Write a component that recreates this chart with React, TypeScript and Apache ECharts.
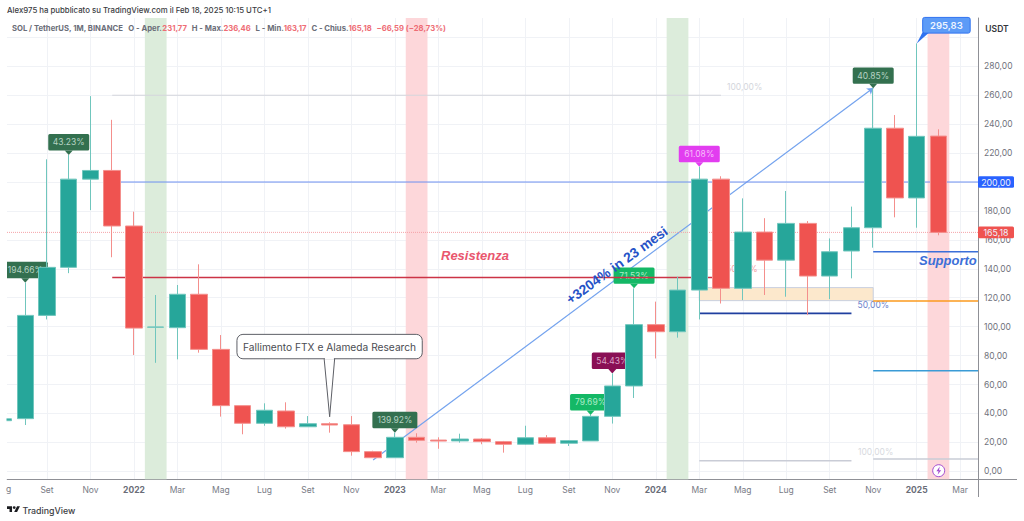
import React, { useEffect, useRef } from "react";
import * as echarts from "echarts";

// ---- data ----
const monthIndex = [-2,-1,0,1,2,3,4,5,6,7,8,9,10,11,12,13,14,15,16,17,18,19,20,21,22,23,24,25,26,27,28,29,30,31,32,33,34,35,36,37,38,39,40,41];
const opens =  [35,36.4,107.8,141,202,208,169.6,99.6,99.3,122.4,84.3,45.4,33.2,41.7,30.8,32.9,32.2,13.6,9.4,23.5,21.6,21,22.3,20.5,18.7,23.2,19.4,21,38,59,101.4,96.5,125.3,202,126.5,165.4,146,171.4,135,152.3,168.4,237.2,189,231.77];
const closes = [36.3,107.8,141,202,208,169.6,99,99.8,122.4,84.3,45.4,33.2,42.2,30.8,32.9,32,13.6,9.4,23.5,21.4,20.9,22.3,20.5,18.7,23.2,19.4,21.2,38,59,101.4,96.5,125.3,202,126.5,165.4,146,171.4,135,151.8,168.4,237.2,189,231.6,165.18];
const lows =   [34.5,32,105,137,180.6,148,80.4,75,77.4,82,37.8,25.6,31.5,29.5,30.8,26.7,10.8,9.4,9.4,19.8,15.6,19.8,18.7,12.9,18.3,19.4,17.5,21,33,50.7,78,92.4,105,116,118.4,121.9,120.7,108,119,133.4,154.6,175.6,168.4,163.17];
const highs =  [37,130.4,215.7,218.7,259.4,243,179.5,121.9,128.8,143.1,94.2,45.4,47,47.7,38.2,33.9,38.2,14.2,26.7,26.3,23.5,26,22.8,21,31.5,25,21.6,39,67.7,126.5,117.3,134.5,210.6,204,188.7,175,193.8,173,161,183,264.8,246.3,295.83,236.46];

const yTickValues = [0,20,40,60,80,100,120,140,160,180,200,220,240,260,280,300];
const yLabelValues = [0,20,40,60,80,100,120,140,160,180,220,240,260,280];
const xTickValues = [0,2,4,6,8,10,12,14,16,18,20,22,24,26,28,30,32,34,36,38,40,42];
const xTickLabels = ["Set","Nov","2022","Mar","Mag","Lug","Set","Nov","2023","Mar","Mag","Lug","Set","Nov","2024","Mar","Mag","Lug","Set","Nov","2025","Mar"];

const tagLabels = ["194.66%","43.23%","139.92%","79.69%","54.43%","71.53%","61.08%","40.85%"];
const tagMonths = [-1,1,16,25,26,27,30,38];

const greenBands = [[4.5,5.5],[28.5,29.5]];
const redBands = [[16.5,17.5],[40.5,41.5]];
const fibZone = [[30,127],[38,118]];

const xMin = -1.84, xMax = 42.82, yMin = -5.53, yMax = 313.4;

const greyTopLine = [[3,260],[31,260]];
const level200Line = [[3,200],[xMax,200]];
const priceLine = [[xMin,165.18],[xMax,165.18]];
const resistanceLine = [[3,134],[31,134]];
const navyLine = [[30,109.2],[37,109.2]];
const greyLowLine = [[30,7.3],[37,7.3]];
const supportLine = [[38,151.8],[xMax,151.8]];
const orangeLine = [[38,117.7],[xMax,117.7]];
const blueLine = [[38,69.5],[xMax,69.5]];
const greyLowLine2 = [[38,8.5],[xMax,8.5]];
const trendCoords = [[15,7.8],[38,265]];

const priceTagValues = [200, 165.18];
const priceTagLabels = ["200,00","165,18"];
const highTag = { month: 40, value: 295.83, label: "295,83" };
const newsNote = { month: 13, value: 37.7, label: "Fallimento FTX e Alameda Research" };

// ---- styles ----
const FONT = "Inter, 'Noto Sans', sans-serif";
const ARIAL = "'Liberation Sans', Arial, sans-serif";
const tagBg = ["#33704f","#33704f","#33704f","#14b866","#8a0f55","#14b866","#e23df0","#33704f"];
const tagFg = ["#b6d3c3","#b6d3c3","#b6d3c3","#a9ecc8","#dba3c6","#a9ecc8","#f7bdfb","#b6d3c3"];
const priceTagBg = ["#2962ff","#ef5350"];

function seg(name: string, data: number[][], color: string, width: number, type: string = "solid", z: number = 2) {
  return {
    name, type: "line", data, z, silent: true, showSymbol: false, symbol: "none",
    lineStyle: { color, width, type }, animation: false,
  };
}

echarts.graphic.registerShape(
  "tvlogo",
  echarts.graphic.extendPath("M14 6H0v8h7v8h7V6zM28 22h-8l8-16h8zM24 10a4 4 0 1 1-8 0a4 4 0 1 1 8 0z", {})
);

function renderTag(params: any, api: any) {
  const i = params.dataIndex;
  const p = api.coord([api.value(0), api.value(1)]);
  const label = tagLabels[i];
  const w = label.length > 6 ? 45 : 41;
  const h = 16.4, gap = 4.5;
  return {
    type: "group",
    children: [
      { type: "rect", shape: { x: p[0] - w / 2, y: p[1] - gap - h, width: w, height: h, r: 1.5 }, style: { fill: tagBg[i] } },
      { type: "polygon", shape: { points: [[p[0] - 4, p[1] - gap], [p[0] + 4, p[1] - gap], [p[0], p[1]]] }, style: { fill: tagBg[i] } },
      { type: "text", style: { text: label, x: p[0], y: p[1] - gap - h / 2, fill: tagFg[i], font: `8.5px ${FONT}`, align: "center", verticalAlign: "middle" } },
    ],
  };
}

function renderPriceTag(params: any, api: any) {
  const i = params.dataIndex;
  const p = api.coord([xMax, api.value(0)]);
  return {
    type: "group",
    children: [
      { type: "rect", shape: { x: p[0], y: p[1] - 5.8, width: 36, height: 11.6, r: 1.5 }, style: { fill: priceTagBg[i] } },
      { type: "text", style: { text: priceTagLabels[i], x: p[0] + 18, y: p[1], fill: "#eef1fb", font: `8.8px ${FONT}`, align: "center", verticalAlign: "middle" } },
    ],
  };
}

function renderHighTag(_: any, api: any) {
  const p = api.coord([api.value(0), api.value(1)]);
  const left = p[0] + 6, top = p[1] - 26, w = 47.5, h = 15.7;
  return {
    type: "group",
    children: [
      { type: "polygon", shape: { points: [[left, top + h - 1], [left + 7, top + h - 1], [p[0], p[1]]] }, style: { fill: "#2f72f0" } },
      { type: "rect", shape: { x: left, y: top, width: w, height: h, r: 2 }, style: { fill: "#5c9bf7", stroke: "#2f72f0", lineWidth: 1 } },
      { type: "text", style: { text: highTag.label, x: left + w / 2, y: top + h / 2, fill: "#eef4ff", font: `600 9.5px ${FONT}`, align: "center", verticalAlign: "middle" } },
    ],
  };
}

function renderNote(_: any, api: any) {
  const p = api.coord([api.value(0), api.value(1)]);
  const left = p[0] - 92.7, top = p[1] - 82.4, w = 185.3, h = 24.4;
  const stroke = "#5d5f66";
  return {
    type: "group",
    children: [
      { type: "rect", shape: { x: left, y: top, width: w, height: h, r: 6 }, style: { fill: "#ffffff", stroke, lineWidth: 1 } },
      { type: "polygon", shape: { points: [[p[0] - 5.5, top + h], [p[0] + 5, top + h], [p[0], p[1]]] }, style: { fill: "#ffffff", stroke, lineWidth: 1 } },
      { type: "line", shape: { x1: p[0] - 4.8, y1: top + h, x2: p[0] + 4.3, y2: top + h }, style: { stroke: "#ffffff", lineWidth: 1.5 } },
      { type: "text", style: { text: newsNote.label, x: left + w / 2, y: top + h / 2, fill: "#4a4c52", font: `10.2px ${FONT}`, align: "center", verticalAlign: "middle" } },
    ],
  };
}

export default function App() {
  const ref = useRef<HTMLDivElement>(null);
  useEffect(() => {
    const chart = echarts.init(ref.current!, undefined, { renderer: "svg" });
    const candleData = monthIndex.map((m, k) => [m, opens[k], closes[k], lows[k], highs[k]]);
    const tagData = tagMonths.map((m) => [m, highs[monthIndex.indexOf(m)]]);
    const bandStyle = (c: string) => ({ itemStyle: { color: c, borderWidth: 0 } });
    chart.setOption({
      animation: false,
      backgroundColor: "#ffffff",
      title: [
        {
          text: "Alex975 ha pubblicato su TradingView.com il Feb 18, 2025 10:15 UTC+1",
          left: 7, top: 6, padding: 0,
          textStyle: { fontFamily: FONT, fontSize: 7.8, fontWeight: 500, color: "#3a3c42" },
        },
        {
          text: "{g|SOL / TetherUS, 1M, BINANCE   O - Aper.}{r|231,77}{g|  \u2009H - Max.}{r|236,46}{g|  \u2009L - Min.}{r|163,17}{g|  \u2009C - Chius.}{r|165,18}{r|  \u2009−66,59 (−28,73%)}",
          left: 12, top: 24, padding: 0,
          textStyle: {
            rich: {
              g: { fontFamily: FONT, fontSize: 7.7, color: "#6a6d78" },
              r: { fontFamily: FONT, fontSize: 7.7, color: "#ee6d75" },
            },
          },
        },
      ],
      grid: { left: 7, right: 46, top: 18, bottom: 41.7, containLabel: false },
      xAxis: {
        type: "value", min: xMin, max: xMax, scale: true,
        axisLine: { show: true, onZero: false, lineStyle: { color: "#8f9096", width: 1 } },
        axisTick: { show: false, customValues: xTickValues },
        splitLine: { show: true, lineStyle: { color: "#f0f2f6", width: 1 } },
        axisLabel: {
          customValues: xTickValues, margin: 6, color: "#787b86", fontFamily: FONT, fontSize: 8.5,
          formatter: (v: number) => {
            const s = xTickLabels[xTickValues.indexOf(v)] ?? "";
            return /^\d/.test(s) ? `{y|${s}}` : s;
          },
          rich: { y: { fontFamily: FONT, fontSize: 8.5, fontWeight: 700, color: "#6a6d78" } },
        },
      },
      yAxis: {
        type: "value", position: "right", min: yMin, max: yMax, scale: true,
        axisLine: { show: true, onZero: false, lineStyle: { color: "#8f9096", width: 1 } },
        axisTick: { show: false, customValues: yTickValues },
        splitLine: { show: true, lineStyle: { color: "#f0f2f6", width: 1 } },
        axisLabel: {
          customValues: yLabelValues, margin: 6, color: "#6f727c", fontFamily: FONT, fontSize: 8.5,
          formatter: (v: number) => v.toFixed(2).replace(".", ","),
        },
      },
      series: [
        seg("100% alto", greyTopLine, "#d4d6dc", 1),
        seg("Livello 200", level200Line, "#6d8ff0", 1),
        seg("Prezzo", priceLine, "#f5a3a8", 1, "dotted"),
        seg("Resistenza", resistanceLine, "#cc3346", 1.3, "solid", 3.5),
        seg("Navy", navyLine, "#1f3f9f", 1.6),
        seg("100% basso", greyLowLine, "#c9ccd6", 1.6),
        seg("Supporto", supportLine, "#3b6fd8", 1.6),
        seg("Arancio", orangeLine, "#fb9a1e", 1.6),
        seg("Azzurro", blueLine, "#3a9bd6", 1.6),
        seg("100% basso 2", greyLowLine2, "#c9ccd6", 1.4),
        {
          name: "Trend", type: "lines", coordinateSystem: "cartesian2d", z: 2, silent: true,
          data: [{ coords: trendCoords }], symbol: ["none", "arrow"], symbolSize: 6,
          lineStyle: { color: "#74a3ee", width: 1.2, opacity: 1 },
        },
        { name: "Etichette", type: "custom", coordinateSystem: "cartesian2d", z: 3, clip: true, silent: true, renderItem: renderTag, data: tagData },
        {
          name: "SOL", type: "candlestick", z: 4, barWidth: 17, clip: true, silent: true,
          data: candleData,
          itemStyle: { color: "#26a69a", color0: "#ef5350", borderColor: "#70c6bd", borderColor0: "#f48f8c", borderWidth: 1 },
          markArea: {
            silent: true, z: 1,
            data: [
              ...greenBands.map((b) => [{ xAxis: b[0], yAxis: yMin, ...bandStyle("#dcecdb") }, { xAxis: b[1], yAxis: yMax }]),
              ...redBands.map((b) => [{ xAxis: b[0], yAxis: yMin, ...bandStyle("#fdd7da") }, { xAxis: b[1], yAxis: yMax }]),
              [
                { xAxis: fibZone[0][0], yAxis: fibZone[0][1], itemStyle: { color: "#fce8cc", borderColor: "#c9d0e0", borderWidth: 1 } },
                { xAxis: fibZone[1][0], yAxis: fibZone[1][1] },
              ],
            ],
          },
        },
        { name: "Max", type: "custom", coordinateSystem: "cartesian2d", z: 6, clip: false, silent: true, renderItem: renderHighTag, data: [[highTag.month, highTag.value]] },
        { name: "Nota", type: "custom", coordinateSystem: "cartesian2d", z: 6, clip: false, silent: true, renderItem: renderNote, data: [[newsNote.month, newsNote.value]] },
        { name: "Prezzi", type: "custom", coordinateSystem: "cartesian2d", z: 6, clip: false, silent: true, renderItem: renderPriceTag, data: priceTagValues.map((v) => [v]), encode: { y: 0 } },
      ],
      graphic: [
        { type: "rect", z: 7, shape: { x: 0, y: 17, width: 6.5, height: 464 }, style: { fill: "#ffffff" }, silent: true },
        { type: "line", shape: { x1: 978, y1: 479.5, x2: 1017, y2: 479.5 }, style: { stroke: "#8f9096", lineWidth: 1 }, silent: true },
        { type: "line", shape: { x1: 978.5, y1: 479, x2: 978.5, y2: 497 }, style: { stroke: "#8f9096", lineWidth: 1 }, silent: true },
        { type: "text", x: 997, y: 29, z: 7, style: { text: "USDT", fill: "#33353b", font: `600 8.5px ${FONT}`, align: "center", verticalAlign: "middle" }, silent: true },
        { type: "text", x: 6, y: 489, style: { text: "g", fill: "#787b86", font: `8.5px ${FONT}`, align: "left", verticalAlign: "middle" }, silent: true },
        { type: "text", x: 727, y: 87, z: 1, style: { text: "100,00%", fill: "#d4d6dc", font: `8.5px ${FONT}`, align: "left", verticalAlign: "middle" }, silent: true },
        { type: "text", x: 858, y: 452, z: 1, style: { text: "100,00%", fill: "#d8dae0", font: `8.5px ${FONT}`, align: "left", verticalAlign: "middle" }, silent: true },
        { type: "text", x: 857.5, y: 305, z: 1, style: { text: "50,00%", fill: "#6a82cc", font: `8.5px ${FONT}`, align: "left", verticalAlign: "middle" }, silent: true },
        { type: "text", x: 726, y: 269, z: 1, style: { text: "50,00%", fill: "#f0a0a5", font: `8.5px ${FONT}`, align: "left", verticalAlign: "middle" }, silent: true },
        { type: "text", x: 441, y: 255, z: 7, style: { text: "Resistenza", fill: "#e9566e", font: `italic bold 13px ${ARIAL}`, align: "left", verticalAlign: "middle" }, silent: true },
        { type: "text", x: 919, y: 260.5, z: 7, style: { text: "Supporto", fill: "#3b6fd8", font: `italic bold 13px ${ARIAL}`, align: "left", verticalAlign: "middle" }, silent: true },
        { type: "text", x: 617, y: 265.5, z: 7, rotation: 0.627, style: { text: "+3204% in 23 mesi", fill: "#2552c7", font: `bold 13.8px ${ARIAL}`, align: "center", verticalAlign: "middle" }, silent: true },
        { type: "circle", z: 7, shape: { cx: 938.7, cy: 470.7, r: 6 }, style: { fill: "#ffffff", stroke: "#a24bd0", lineWidth: 1 }, silent: true },
        { type: "polygon", z: 7, shape: { points: [[939.8, 466.6], [936.4, 471.2], [938.6, 471.2], [937.6, 474.8], [941.2, 470.2], [939, 470.2]] }, style: { fill: "#a24bd0" }, silent: true },
        { type: "tvlogo", x: 7, y: 504, scaleX: 0.36, scaleY: 0.36, style: { fill: "#1b1c20" }, silent: true },
        { type: "text", x: 22.5, y: 510, style: { text: "TradingView", fill: "#3a3c42", font: `500 8.8px ${FONT}`, align: "left", verticalAlign: "middle" }, silent: true },
      ],
    });
    return () => chart.dispose();
  }, []);
  return <div ref={ref} style={{ position: "fixed", left: 0, top: 0, width: 1024, height: 521 }} />;
}
